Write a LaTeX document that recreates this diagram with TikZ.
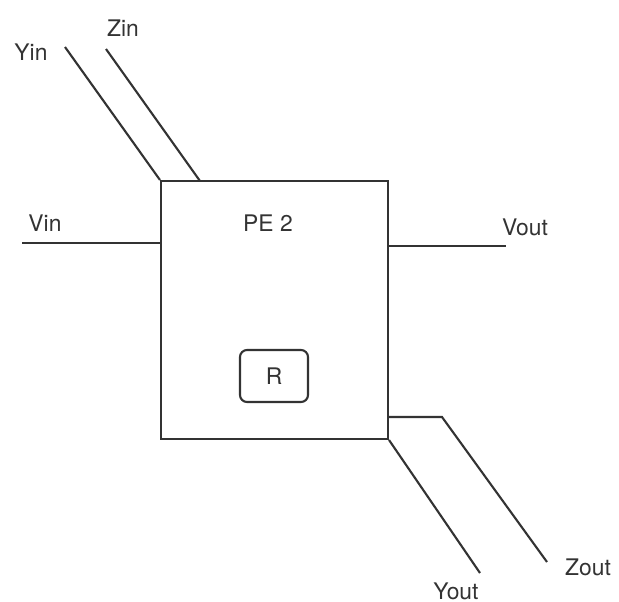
\documentclass[tikz,border=0pt]{standalone}
\usepackage{fontspec}
\setmainfont{TeX Gyre Heros}
\begin{document}
\begin{tikzpicture}[x=0.02cm, y=-0.02cm, line width=1.2pt, black!80,
  lbl/.style={font=\fontsize{13}{15}\selectfont, inner sep=0pt}]
  \useasboundingbox (0,0) rectangle (619,602);
  % Processing element
  \node[draw, minimum width=4.54cm, minimum height=5.16cm, inner sep=0pt] (pe) at (274.5,310) {};
  \node[lbl] (pename) at (268,223) {PE 2};
  % Register
  \node[draw, rounded corners=4pt, minimum width=1.36cm, minimum height=1.04cm, lbl] (reg) at (274,376) {R};
  % Free ends
  \coordinate (yin) at (65,47);
  \coordinate (zin) at (106,49);
  \coordinate (zjoin) at (200,181);
  \coordinate (vin) at (22,243);
  \coordinate (vout) at (506,246);
  \coordinate (zbend) at (442,417);
  \coordinate (zout) at (547,562);
  \coordinate (yout) at (480,573);
  % Inputs
  \draw (yin) -- (pe.north west);
  \draw (zin) -- (zjoin);
  \draw (vin) -- (vin -| pe.west);
  % Outputs
  \draw (pe.east |- vout) -- (vout);
  \draw (pe.east |- zbend) -- (zbend) -- (zout);
  \draw (pe.south east) -- (yout);
  % Labels
  \node[lbl] (yinlbl) at (31,52) {Yin};
  \node[lbl] (zinlbl) at (123,28) {Zin};
  \node[lbl] (vinlbl) at (45,223) {Vin};
  \node[lbl] (voutlbl) at (525,227) {Vout};
  \node[lbl] (zoutlbl) at (588,567) {Zout};
  \node[lbl] (youtlbl) at (456,591) {Yout};
\end{tikzpicture}
\end{document}
